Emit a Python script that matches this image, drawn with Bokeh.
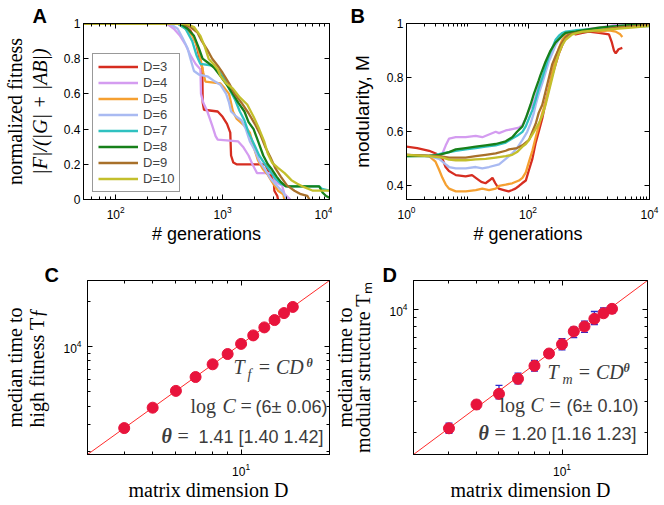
import math
from bokeh.plotting import figure
from bokeh.layouts import column, row
from bokeh.models import (Range1d, FixedTicker, LogAxis, LinearAxis, Label, Legend, LegendItem, Title,
                          Whisker, ColumnDataSource, CustomJSTickFormatter, TeeHead)
from bokeh.embed import file_html
from bokeh.resources import INLINE

# ---------------- data ----------------
dims_A = ["D=3", "D=4", "D=5", "D=6", "D=7", "D=8", "D=9", "D=10"]
colors = ["#d62d20", "#d49cf0", "#f5a031", "#a9baf2", "#2fc1c0", "#17801a", "#a8702a", "#c3bf2c"]

# Panel A: normalized fitness vs generations
a3_x = [50, 420, 500, 560, 610, 645, 652, 670, 900, 1000, 1100, 1180, 1200, 1260, 1350, 2500, 2640, 2800, 3000, 3050, 3250, 3300]
a3_y = [1, 1, 0.96, 0.9, 0.8, 0.75, 0.55, 0.51, 0.5, 0.47, 0.43, 0.38, 0.25, 0.21, 0.2, 0.2, 0.17, 0.14, 0.12, 0.05, 0.02, 0]
a4_x = [50, 300, 350, 400, 450, 500, 560, 620, 628, 660, 720, 800, 860, 900, 1400, 1550, 1750, 1900, 2100, 2950, 3100, 3600, 3800, 4300]
a4_y = [1, 1, 0.97, 0.93, 0.88, 0.82, 0.77, 0.74, 0.6, 0.55, 0.5, 0.42, 0.36, 0.34, 0.33, 0.3, 0.25, 0.2, 0.15, 0.15, 0.1, 0.08, 0.03, 0]
a5_x = [50, 380, 450, 520, 580, 620, 660, 690, 950, 1050, 1150, 1250, 1350, 1600, 1800, 1950, 2150, 2400, 2650, 2900, 3300, 3700, 3780]
a5_y = [1, 1, 0.97, 0.93, 0.87, 0.8, 0.72, 0.67, 0.66, 0.63, 0.6, 0.5, 0.46, 0.42, 0.38, 0.3, 0.22, 0.17, 0.14, 0.1, 0.05, 0.03, 0]
a6_x = [50, 320, 380, 420, 470, 500, 540, 600, 720, 850, 960, 1080, 1150, 1200, 1350, 1500, 1650, 1800, 2000, 2200, 2500, 2800, 3200, 3700, 4000]
a6_y = [1, 1, 0.97, 0.92, 0.86, 0.8, 0.73, 0.71, 0.7, 0.67, 0.65, 0.6, 0.55, 0.5, 0.47, 0.45, 0.4, 0.33, 0.28, 0.22, 0.17, 0.12, 0.08, 0.04, 0]
a7_x = [50, 380, 450, 520, 570, 620, 830, 950, 1050, 1150, 1300, 1450, 1600, 1750, 1950, 2200, 2500, 2800, 3100, 3500, 4000, 8000, 8500, 10000]
a7_y = [1, 1, 0.97, 0.9, 0.82, 0.77, 0.76, 0.72, 0.68, 0.63, 0.57, 0.5, 0.45, 0.38, 0.32, 0.25, 0.2, 0.16, 0.12, 0.09, 0.075, 0.075, 0.06, 0.05]
a8_x = [50, 400, 470, 540, 600, 650, 720, 830, 960, 1100, 1250, 1400, 1600, 1750, 1950, 2150, 2400, 2650, 2900, 3200, 3500, 3900, 8000, 8600, 9300, 10000]
a8_y = [1, 1, 0.97, 0.93, 0.86, 0.8, 0.78, 0.75, 0.7, 0.65, 0.6, 0.55, 0.5, 0.44, 0.4, 0.33, 0.25, 0.2, 0.17, 0.13, 0.1, 0.075, 0.075, 0.04, 0.02, 0.01]
a9_x = [50, 420, 500, 580, 640, 720, 800, 900, 1000, 1150, 1300, 1500, 1750, 2000, 2250, 2500, 2800, 3100, 3500, 4000, 4700, 5400, 6200, 6500]
a9_y = [1, 1, 0.98, 0.95, 0.9, 0.85, 0.8, 0.76, 0.72, 0.66, 0.6, 0.55, 0.49, 0.43, 0.37, 0.3, 0.24, 0.18, 0.13, 0.08, 0.05, 0.03, 0.02, 0]
a10_x = [50, 450, 540, 620, 680, 740, 820, 900, 960, 1080, 1250, 1450, 1700, 1950, 2200, 2450, 2650, 2900, 3300, 3800, 4400, 5000, 5800, 7000, 10000]
a10_y = [1, 1, 0.98, 0.93, 0.87, 0.8, 0.77, 0.74, 0.7, 0.66, 0.63, 0.58, 0.54, 0.47, 0.4, 0.33, 0.26, 0.21, 0.18, 0.15, 0.11, 0.09, 0.07, 0.05, 0.05]

# Panel B: modularity vs generations
b3_x = [1, 1.5, 2.36, 3.03, 3.9, 4.4, 5.0, 6.5, 9.4, 12, 13.8, 17, 20, 23, 26, 29, 33, 40, 48, 55, 62, 71, 80, 92, 104, 118, 134, 150, 172, 195, 221, 251, 285, 323, 367, 416, 472, 536, 608, 784, 1000, 1472, 2150, 2400, 2600, 2780, 3100, 3570]
b3_y = [0.545, 0.54, 0.53, 0.52, 0.50, 0.47, 0.455, 0.44, 0.435, 0.44, 0.43, 0.415, 0.41, 0.42, 0.43, 0.41, 0.39, 0.385, 0.38, 0.385, 0.39, 0.40, 0.41, 0.42, 0.46, 0.50, 0.56, 0.60, 0.65, 0.71, 0.76, 0.81, 0.85, 0.89, 0.92, 0.95, 0.96, 0.965, 0.96, 0.965, 0.97, 0.965, 0.96, 0.93, 0.9, 0.89, 0.905, 0.91]
b4_x = [1, 2.36, 3.44, 3.9, 4.43, 5.03, 6.47, 9.44, 13.8, 17.7, 22.8, 29.4, 33.4, 43, 55, 71, 81, 92, 104, 118, 134, 150, 172, 195, 221, 251, 285, 323, 367, 416, 608, 1000, 1472, 2150, 2780, 5000, 9750]
b4_y = [0.515, 0.51, 0.505, 0.52, 0.55, 0.575, 0.58, 0.58, 0.585, 0.58, 0.59, 0.6, 0.595, 0.605, 0.61, 0.615, 0.625, 0.65, 0.68, 0.7, 0.73, 0.77, 0.8, 0.84, 0.87, 0.9, 0.93, 0.95, 0.96, 0.965, 0.97, 0.98, 0.985, 0.99, 0.995, 1.0, 1.0]
b5_x = [1, 2.36, 3.0, 3.44, 3.9, 4.43, 5.03, 6.47, 9.44, 13.8, 17.7, 22.8, 29.4, 33.4, 43, 55, 71, 81, 92, 104, 118, 134, 150, 172, 195, 221, 251, 285, 323, 367, 416, 472, 608, 1000, 1472, 2150, 2780, 3300, 3570]
b5_y = [0.515, 0.51, 0.49, 0.46, 0.43, 0.405, 0.39, 0.38, 0.38, 0.385, 0.39, 0.385, 0.39, 0.40, 0.405, 0.41, 0.42, 0.43, 0.45, 0.49, 0.53, 0.58, 0.62, 0.67, 0.71, 0.76, 0.82, 0.87, 0.91, 0.94, 0.96, 0.965, 0.97, 0.975, 0.97, 0.975, 0.97, 0.96, 0.95]
b6_x = [1, 2.36, 3.44, 4.43, 5.03, 6.47, 9.44, 13.8, 17.7, 22.8, 33.4, 43, 55, 66, 81, 97, 110, 125, 134, 150, 172, 195, 221, 251, 285, 323, 367, 416, 608, 1472, 2780, 9750]
b6_y = [0.515, 0.51, 0.5, 0.48, 0.47, 0.465, 0.465, 0.47, 0.465, 0.47, 0.48, 0.5, 0.52, 0.54, 0.57, 0.6, 0.63, 0.67, 0.7, 0.74, 0.78, 0.82, 0.86, 0.89, 0.92, 0.94, 0.955, 0.965, 0.97, 0.98, 0.99, 0.995]
b7_x = [1, 2.36, 3.03, 3.9, 5.03, 6.47, 9.44, 13.8, 20, 29.4, 43, 55, 66, 81, 92, 104, 118, 134, 150, 172, 195, 221, 251, 285, 323, 367, 416, 608, 1472, 2780, 9750]
b7_y = [0.51, 0.512, 0.515, 0.52, 0.525, 0.53, 0.535, 0.54, 0.545, 0.55, 0.56, 0.575, 0.585, 0.6, 0.62, 0.65, 0.68, 0.72, 0.76, 0.8, 0.84, 0.88, 0.91, 0.94, 0.955, 0.965, 0.97, 0.975, 0.98, 0.99, 0.99]
b8_x = [1, 2.36, 3.44, 5.03, 6.47, 9.44, 13.8, 20, 29.4, 43, 55, 66, 81, 92, 110, 125, 150, 161, 195, 235, 285, 367, 416, 608, 784, 1472, 2780, 9750]
b8_y = [0.51, 0.51, 0.515, 0.525, 0.535, 0.54, 0.545, 0.55, 0.555, 0.565, 0.58, 0.6, 0.62, 0.65, 0.7, 0.74, 0.79, 0.81, 0.86, 0.9, 0.93, 0.955, 0.965, 0.97, 0.975, 0.985, 0.99, 1.0]
b9_x = [1, 2.36, 3.44, 5.03, 9.44, 13.8, 20.1, 29.4, 43, 48.7, 66, 81, 104, 118, 134, 150, 172, 195, 221, 251, 285, 343, 416, 472, 608, 1472, 2780, 9750]
b9_y = [0.515, 0.512, 0.51, 0.505, 0.505, 0.51, 0.515, 0.52, 0.53, 0.535, 0.54, 0.55, 0.57, 0.6, 0.63, 0.67, 0.7, 0.75, 0.8, 0.85, 0.88, 0.92, 0.95, 0.96, 0.965, 0.975, 0.985, 0.995]
b10_x = [1, 2.36, 3.9, 5.03, 6.47, 9.44, 13.8, 20.1, 29.4, 43, 55, 66, 81, 92, 104, 125, 150, 172, 195, 221, 251, 285, 323, 367, 416, 536, 784, 1472, 2780, 5000, 9750]
b10_y = [0.515, 0.51, 0.505, 0.497, 0.495, 0.495, 0.498, 0.5, 0.505, 0.51, 0.515, 0.525, 0.545, 0.555, 0.57, 0.6, 0.63, 0.66, 0.7, 0.75, 0.8, 0.85, 0.89, 0.92, 0.94, 0.96, 0.97, 0.975, 0.98, 0.985, 0.99]

# Panel C / D: median times vs matrix dimension
dims_CD = [4, 5, 6, 7, 8, 9, 10, 11, 12, 13, 14, 15]
tf_med = [2850, 3900, 5050, 6250, 7600, 8900, 10400, 11850, 13400, 15000, 16700, 18350]
tf_lo = [2810, 3850, 4980, 6170, 7500, 8780, 10260, 11700, 13230, 14800, 16480, 18120]
tf_hi = [2890, 3950, 5120, 6330, 7700, 9020, 10540, 12000, 13570, 15200, 16920, 18580]
tm_med = [2124, 2900, 3334, 4060, 4810, 5650, 6380, 7540, 8050, 8900, 9570, 10140]
tm_lo = [1990, 2740, 3120, 3800, 4490, 5380, 5930, 6950, 7460, 8260, 9080, 9570]
tm_hi = [2270, 3060, 3720, 4370, 5160, 5930, 6860, 7980, 8630, 9790, 10280, 10590]
fit_C = {"logC": 6.0, "theta": 1.41}
fit_D = {"logC": 6.0, "theta": 1.20}
d_range = [3, 20]

A_series = [(a3_x, a3_y), (a4_x, a4_y), (a5_x, a5_y), (a6_x, a6_y), (a7_x, a7_y), (a8_x, a8_y), (a9_x, a9_y), (a10_x, a10_y)]
B_series = [(b3_x, b3_y), (b4_x, b4_y), (b5_x, b5_y), (b6_x, b6_y), (b7_x, b7_y), (b8_x, b8_y), (b9_x, b9_y), (b10_x, b10_y)]

SANS = "Liberation Sans"
SERIF = "Liberation Serif"
TICK_FS = "12px"
GRAY = "#3c3c3c"


def blank():
    return CustomJSTickFormatter(code="return '';")


def make_fig(w, h, bl, br, bt, bb, xtype, ytype, xr, yr, xticks, xminor, yticks, yminor, yfmt=None):
    p = figure(width=w, height=h, x_axis_type=xtype, y_axis_type=ytype,
               x_range=Range1d(*xr), y_range=Range1d(*yr),
               output_backend="svg", toolbar_location=None,
               min_border_left=bl, min_border_right=br, min_border_top=bt, min_border_bottom=bb)
    p.grid.visible = False
    p.outline_line_color = "black"
    p.outline_line_width = 1
    p.background_fill_color = "white"
    p.border_fill_color = "white"
    xt = FixedTicker(ticks=xticks, minor_ticks=xminor)
    yt = FixedTicker(ticks=yticks, minor_ticks=yminor)
    bottom = p.below[0]
    left = p.left[0]
    bottom.ticker = xt
    left.ticker = yt
    if yfmt is not None:
        left.formatter = yfmt
    XA = LogAxis if xtype == "log" else LinearAxis
    YA = LogAxis if ytype == "log" else LinearAxis
    top = XA(ticker=xt, formatter=blank())
    right = YA(ticker=yt, formatter=blank())
    for ax in (top, right):
        ax.major_label_standoff = 0
        ax.major_label_text_font_size = "1px"
    p.add_layout(top, "above")
    p.add_layout(right, "right")
    for ax in (bottom, left, top, right):
        ax.major_tick_in = 5
        ax.major_tick_out = 0
        ax.minor_tick_in = 3
        ax.minor_tick_out = 0
        ax.axis_line_color = "black"
        ax.major_tick_line_color = "black"
        ax.minor_tick_line_color = "black"
    for ax in (bottom, left):
        ax.major_label_text_font = SANS
        ax.major_label_text_font_size = TICK_FS
        ax.major_label_text_color = "black"
        ax.axis_label_text_font_style = "normal"
        ax.axis_label_text_color = "black"
    return p, bottom, left


def outer_ylabel(p, text, ytype, standoff, font=SERIF, size="20px"):
    YA = LogAxis if ytype == "log" else LinearAxis
    ax = YA(ticker=FixedTicker(ticks=[]), formatter=blank(), axis_label=text,
            axis_line_color=None, major_tick_line_color=None, minor_tick_line_color=None,
            major_label_standoff=0, major_label_text_font_size="1px",
            axis_label_standoff=standoff, axis_label_text_font=font,
            axis_label_text_font_size=size, axis_label_text_font_style="normal",
            axis_label_text_color="black")
    p.add_layout(ax, "left")


def letter(p, text, offset, standoff):
    p.add_layout(Title(text=text, align="left", offset=offset, standoff=standoff,
                       vertical_align="bottom", text_font=SANS, text_font_size="20px",
                       text_font_style="bold", text_color="black"), "above")


def rlab(p, dx, y, text, font=SERIF, size="20px", style="normal", align="left"):
    # x anchored to the right edge of the x range (data units), offset in pixels
    p.add_layout(Label(x=d_range[1], y=y, x_units="data", y_units="screen", x_offset=dx, text=text,
                       text_font=font, text_font_size=size, text_font_style=style,
                       text_color=GRAY, text_align=align))


frac_fmt = CustomJSTickFormatter(code="return String(Math.round(tick*10)/10);")

# ---------------- Panel A ----------------
pA, bA, lA = make_fig(332, 258, 83, 3, 23, 59, "log", "linear", (50, 10000), (0, 1),
                      [100, 1000, 10000],
                      [50, 60, 70, 80, 90] + [k * 100 for k in range(2, 10)] + [k * 1000 for k in range(2, 10)],
                      [0, 0.2, 0.4, 0.6, 0.8, 1], [], yfmt=frac_fmt)
items = []
for (xs, ys), c, name in zip(A_series, colors, dims_A):
    r = pA.line(xs, ys, line_color=c, line_width=2.3)
    items.append(LegendItem(label=name, renderers=[r]))
leg = Legend(items=items, location=(9, 7), glyph_width=40, glyph_height=13, label_height=13,
             label_standoff=5, spacing=1, padding=5, margin=0,
             label_text_font=SANS, label_text_font_size="13px",
             border_line_color="#333333", border_line_width=1, background_fill_color="white",
             background_fill_alpha=1.0)
pA.add_layout(leg, "center")
lA.major_label_standoff = 3
lA.axis_label = "|F|/(|G| + |AB|)"
lA.axis_label_text_font = SERIF
lA.axis_label_text_font_size = "20px"
lA.axis_label_text_font_style = "italic"
lA.axis_label_standoff = 10
outer_ylabel(pA, "normalized fitness", "linear", 0)
bA.major_label_standoff = 6
bA.axis_label = "# generations"
bA.axis_label_text_font = SANS
bA.axis_label_text_font_size = "18px"
bA.axis_label_standoff = 2
letter(pA, "A", -51, -6)

# ---------------- Panel B ----------------
pB, bB, lB = make_fig(332, 258, 74, 15, 23, 59, "log", "linear", (1, 10000), (0.35, 1),
                      [1, 100, 10000],
                      [k for k in range(2, 10)] + [k * 10 for k in range(1, 10)] + [k * 100 for k in range(2, 10)]
                      + [k * 1000 for k in range(1, 10)],
                      [0.4, 0.6, 0.8, 1], [], yfmt=frac_fmt)
for (xs, ys), c in zip(B_series, colors):
    pB.line(xs, ys, line_color=c, line_width=2.3)
lB.major_label_standoff = 3
lB.axis_label = "modularity, M"
lB.axis_label_text_font = SANS
lB.axis_label_text_font_size = "19px"
lB.axis_label_standoff = 11
bB.major_label_standoff = 6
bB.axis_label = "# generations"
bB.axis_label_text_font = SANS
bB.axis_label_text_font_size = "18px"
bB.axis_label_standoff = 2
letter(pB, "B", -56, -6)


# ---------------- Panels C and D ----------------
def fit_line(fit):
    C = math.exp(fit["logC"])
    return [C * d ** fit["theta"] for d in d_range]


def scatter_panel(p, xa, ya, med, lo, hi, fit, inner_label, outer_label, outer_standoff):
    p.line(d_range, fit_line(fit), line_color="#ff2a2a", line_width=1)
    p.scatter(dims_CD, med, size=11, fill_color="#e8143c", line_color="#e8143c")
    src = ColumnDataSource(dict(x=dims_CD, lo=lo, hi=hi))
    p.add_layout(Whisker(base="x", lower="lo", upper="hi", source=src, line_color="#2a2ad0", line_width=1.3,
                         upper_head=TeeHead(size=7, line_color="#2a2ad0", line_width=1.3),
                         lower_head=TeeHead(size=7, line_color="#2a2ad0", line_width=1.3)))
    ya.major_label_standoff = 6
    ya.axis_label = inner_label
    ya.axis_label_text_font = SERIF
    ya.axis_label_text_font_size = "20px"
    ya.axis_label_standoff = 12
    outer_ylabel(p, outer_label, "log", outer_standoff)
    xa.major_label_standoff = 8
    xa.axis_label = "matrix dimension D"
    xa.axis_label_text_font = SERIF
    xa.axis_label_text_font_size = "20px"
    xa.axis_label_standoff = 0


yrC = fit_line(fit_C)
pC, bC, lC = make_fig(330, 247, 81, 1, 22, 51, "log", "log", tuple(d_range), tuple(yrC),
                      [10], [3, 4, 5, 6, 7, 8, 9, 20],
                      [10000], [2000, 3000, 4000, 5000, 6000, 7000, 8000, 9000, 20000])
scatter_panel(pC, bC, lC, tf_med, tf_lo, tf_hi, fit_C, "high fitness T\u0192", "median time to", -2)
letter(pC, "C", -43, -11)
rlab(pC, -96, 77, "T", style="italic")
rlab(pC, -82, 73, "f", size="14px", style="italic")
rlab(pC, -72, 77, "=  CD", style="italic")
rlab(pC, -23, 85, "\u03b8", size="12px", style="bold italic")
rlab(pC, -139, 38, "log")
rlab(pC, -107, 38, "C", style="italic")
rlab(pC, -89, 38, "=")
rlab(pC, -2, 38, "(6\u00b1 0.06)", font=SANS, size="18px", align="right")
rlab(pC, -168, 8, "\u03b8", style="bold italic")
rlab(pC, -152, 8, "=")
rlab(pC, -6, 8, "1.41 [1.40 1.42]", font=SANS, size="18px", align="right")

yrD = fit_line(fit_D)
pD, bD, lD = make_fig(334, 247, 75, 17, 22, 51, "log", "log", tuple(d_range), tuple(yrD),
                      [10], [3, 4, 5, 6, 7, 8, 9, 20],
                      [10000], [2000, 3000, 4000, 5000, 6000, 7000, 8000, 9000])
scatter_panel(pD, bD, lD, tm_med, tm_lo, tm_hi, fit_D, "modular structure T\u2098", "median time to", -6)
letter(pD, "D", -31, -11)
rlab(pD, -100, 72, "T", style="italic")
rlab(pD, -85, 68, "m", size="14px", style="italic")
rlab(pD, -70, 72, "=  CD", style="italic")
rlab(pD, -24, 80, "\u03b8", size="12px", style="bold italic")
rlab(pD, -148, 39, "log")
rlab(pD, -117, 39, "C", style="italic")
rlab(pD, -98, 39, "=")
rlab(pD, -9, 39, "(6\u00b1 0.10)", font=SANS, size="18px", align="right")
rlab(pD, -169, 11, "\u03b8", style="bold italic")
rlab(pD, -153, 11, "=")
rlab(pD, -11, 11, "1.20 [1.16 1.23]", font=SANS, size="18px", align="right")

layout = column(row(pA, pB), row(pC, pD))
open("out.html", "w").write(file_html(layout, INLINE))
